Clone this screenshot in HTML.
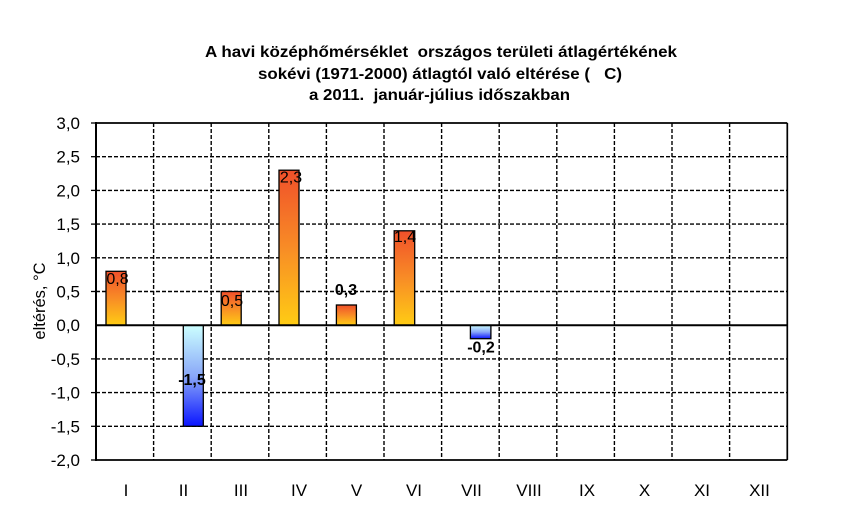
<!DOCTYPE html>
<html><head><meta charset="utf-8"><style>
html,body{margin:0;padding:0;background:#fff;}
svg{display:block;}
text{font-family:"Liberation Sans",Arial,sans-serif;fill:#000;}
</style></head><body>
<svg width="841" height="524" viewBox="0 0 841 524" xmlns="http://www.w3.org/2000/svg">
<defs>
<linearGradient id="pos" x1="0" y1="0" x2="0" y2="1">
<stop offset="0" stop-color="#f0502a"/>
<stop offset="0.5" stop-color="#f88c26"/>
<stop offset="1" stop-color="#ffcc14"/>
</linearGradient>
<linearGradient id="neg" x1="0" y1="0" x2="0" y2="1">
<stop offset="0" stop-color="#ccffff"/>
<stop offset="0.5" stop-color="#8aa8f8"/>
<stop offset="1" stop-color="#0a14ff"/>
</linearGradient>
</defs>
<rect width="841" height="524" fill="#fff"/>
<!-- title -->
<g font-weight="bold" font-size="16" text-anchor="start">
<text x="205" y="57" textLength="472" lengthAdjust="spacingAndGlyphs">A havi középhőmérséklet&#160; országos területi átlagértékének</text>
<text x="258" y="79" textLength="364" lengthAdjust="spacingAndGlyphs">sokévi (1971-2000) átlagtól való eltérése (&#160;&#160; C)</text>
<text x="309" y="100" textLength="261" lengthAdjust="spacingAndGlyphs">a 2011.&#160; január-július időszakban</text>
</g>
<!-- horizontal gridlines -->
<g stroke="#000" stroke-width="1.4" stroke-dasharray="4,2" fill="none">
<line x1="96" y1="156.7" x2="787" y2="156.7"/>
<line x1="96" y1="190.4" x2="787" y2="190.4"/>
<line x1="96" y1="224.1" x2="787" y2="224.1"/>
<line x1="96" y1="257.8" x2="787" y2="257.8"/>
<line x1="96" y1="291.5" x2="787" y2="291.5"/>
<line x1="96" y1="358.9" x2="787" y2="358.9"/>
<line x1="96" y1="392.6" x2="787" y2="392.6"/>
<line x1="96" y1="426.3" x2="787" y2="426.3"/>
<!-- vertical gridlines -->
<line x1="153.6" y1="123" x2="153.6" y2="460"/>
<line x1="211.2" y1="123" x2="211.2" y2="460"/>
<line x1="268.8" y1="123" x2="268.8" y2="460"/>
<line x1="326.4" y1="123" x2="326.4" y2="460"/>
<line x1="384" y1="123" x2="384" y2="460"/>
<line x1="441.6" y1="123" x2="441.6" y2="460"/>
<line x1="499.2" y1="123" x2="499.2" y2="460"/>
<line x1="556.8" y1="123" x2="556.8" y2="460"/>
<line x1="614.4" y1="123" x2="614.4" y2="460"/>
<line x1="672" y1="123" x2="672" y2="460"/>
<line x1="729.6" y1="123" x2="729.6" y2="460"/>
</g>
<!-- border -->
<g stroke="#000" stroke-width="1.7" fill="none">
<line x1="96" y1="123" x2="787.3" y2="123"/>
<line x1="787.3" y1="123" x2="787.3" y2="460"/>
<line x1="96" y1="460" x2="787.3" y2="460"/>
</g>
<!-- bars -->
<g stroke="#000" stroke-width="1.3">
<rect x="106" y="271.3" width="20" height="53.9" fill="url(#pos)"/>
<rect x="183.3" y="325.2" width="20" height="101.1" fill="url(#neg)"/>
<rect x="221.2" y="291.5" width="20" height="33.7" fill="url(#pos)"/>
<rect x="279" y="170.2" width="20" height="155" fill="url(#pos)"/>
<rect x="336.4" y="305" width="20" height="20.2" fill="url(#pos)"/>
<rect x="394.2" y="230.8" width="20.5" height="94.4" fill="url(#pos)"/>
<rect x="470.4" y="325.2" width="20.5" height="13.5" fill="url(#neg)"/>
</g>
<!-- axis & zero line -->
<g stroke="#000" stroke-width="2" fill="none">
<line x1="96" y1="122" x2="96" y2="461"/>
<line x1="95" y1="325.2" x2="787.3" y2="325.2"/>
</g>
<g stroke="#000" stroke-width="1.3">
<line x1="91" y1="123" x2="96" y2="123"/>
<line x1="91" y1="156.7" x2="96" y2="156.7"/>
<line x1="91" y1="190.4" x2="96" y2="190.4"/>
<line x1="91" y1="224.1" x2="96" y2="224.1"/>
<line x1="91" y1="257.8" x2="96" y2="257.8"/>
<line x1="91" y1="291.5" x2="96" y2="291.5"/>
<line x1="91" y1="358.9" x2="96" y2="358.9"/>
<line x1="91" y1="392.6" x2="96" y2="392.6"/>
<line x1="91" y1="426.3" x2="96" y2="426.3"/>
<line x1="91" y1="460" x2="96" y2="460"/>
</g>
<!-- y labels -->
<g font-size="17" text-anchor="end">
<text x="80" y="129">3,0</text>
<text x="80" y="162.7">2,5</text>
<text x="80" y="196.4">2,0</text>
<text x="80" y="230.1">1,5</text>
<text x="80" y="263.8">1,0</text>
<text x="80" y="297.5">0,5</text>
<text x="80" y="331.2">0,0</text>
<text x="80" y="364.9">-0,5</text>
<text x="80" y="398.6">-1,0</text>
<text x="80" y="432.3">-1,5</text>
<text x="80" y="466">-2,0</text>
</g>
<!-- y title -->
<text x="45" y="301" font-size="16.5" text-anchor="middle" transform="rotate(-90 45 301)">eltérés, °C</text>
<!-- x labels -->
<g font-size="17" text-anchor="middle">
<text x="126" y="496">I</text>
<text x="183.5" y="496">II</text>
<text x="241" y="496">III</text>
<text x="299" y="496">IV</text>
<text x="356.5" y="496">V</text>
<text x="414" y="496">VI</text>
<text x="471.5" y="496">VII</text>
<text x="529" y="496">VIII</text>
<text x="587" y="496">IX</text>
<text x="644.5" y="496">X</text>
<text x="702" y="496">XI</text>
<text x="759.5" y="496">XII</text>
</g>
<!-- data labels -->
<g font-size="16" text-anchor="middle" fill="#111">
<text x="117.5" y="284">0,8</text>
<text x="232" y="306">0,5</text>
<text x="291" y="182.5">2,3</text>
<text x="405" y="242">1,4</text>
<text x="346" y="295" font-weight="bold">0,3</text>
<text x="192" y="385" font-weight="bold">-1,5</text>
<text x="481" y="352.5" font-weight="bold">-0,2</text>
</g>
</svg>
</body></html>
